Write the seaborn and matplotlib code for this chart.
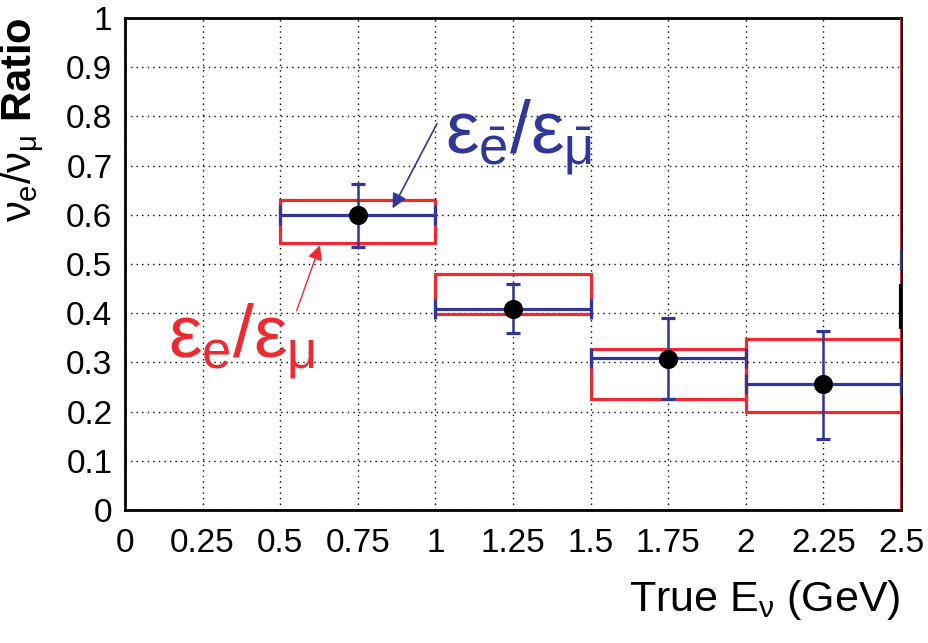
import numpy as np
import pandas as pd
import matplotlib
matplotlib.use("Agg")
import matplotlib.pyplot as plt
from matplotlib.ticker import MultipleLocator, FuncFormatter
import seaborn as sns

# Energy bins (GeV)
bin_lo = [0.5, 1.0, 1.5, 2.0]
bin_hi = [1.0, 1.5, 2.0, 2.5]
bin_center = [0.75, 1.25, 1.75, 2.25]

# nu_e / nu_mu ratio with its error bar
ratio = [0.600, 0.409, 0.307, 0.256]
ratio_err_lo = [0.535, 0.360, 0.225, 0.145]
ratio_err_hi = [0.662, 0.460, 0.390, 0.363]

# efficiency ratio band for neutrinos (red boxes)
eff_lo = [0.542, 0.398, 0.226, 0.200]
eff_hi = [0.631, 0.479, 0.328, 0.348]

# efficiency ratio for antineutrinos (blue lines), last bin lies past the axis edge
anti_lo = [0.5, 1.0, 1.5, 2.0, 2.5]
anti_hi = [1.0, 1.5, 2.0, 2.5, 3.0]
anti_ratio = [0.600, 0.409, 0.308, 0.256, 0.509]

# overflow error segment at the upper edge
overflow_lo = [0.368]
overflow_hi = [0.460]

RED = "#ee2a30"
BLUE = "#30379a"

sns.set_theme(style="white")
plt.rcParams["font.family"] = ["Liberation Sans", "DejaVu Sans"]
plt.rcParams["mathtext.fontset"] = "custom"
plt.rcParams["mathtext.rm"] = "Liberation Sans"
plt.rcParams["mathtext.it"] = "Liberation Sans"
plt.rcParams["mathtext.bf"] = "Liberation Sans:bold"
for key in ("text.color", "axes.labelcolor", "xtick.color", "ytick.color"):
    plt.rcParams[key] = "black"

fig = plt.figure(figsize=(9.29, 6.43), dpi=100)
ax = fig.add_axes([125 / 929, 133 / 643, 776 / 929, 492 / 643])

ax.set_xlim(0, 2.5)
ax.set_ylim(0, 1)

# dotted grid
ax.set_axisbelow(True)
ax.grid(True, which="major", color="black", linestyle=(0, (1, 3)), linewidth=1.0)

# red boxes: neutrino efficiency ratio range per bin
widths = np.array(bin_hi) - np.array(bin_lo)
heights = np.array(eff_hi) - np.array(eff_lo)
ax.bar(bin_lo, heights, width=widths, bottom=eff_lo, align="edge",
       fill=False, edgecolor=RED, linewidth=2.3, zorder=3)
ax.axvline(2.5, color=RED, linewidth=2.0, zorder=3)

# blue lines with end caps: antineutrino efficiency ratio
anti_c = (np.array(anti_lo) + np.array(anti_hi)) / 2
anti_w = (np.array(anti_hi) - np.array(anti_lo)) / 2
ax.errorbar(anti_c, anti_ratio, xerr=anti_w, fmt="none", ecolor=BLUE,
            elinewidth=2.3, capsize=7, capthick=2.3, zorder=4)

# overflow segment
ax.vlines([2.5], overflow_lo, overflow_hi, color="black", linewidth=3, zorder=4)

# vertical error bars on the ratio
yerr = np.vstack([np.array(ratio) - np.array(ratio_err_lo),
                  np.array(ratio_err_hi) - np.array(ratio)])
ax.errorbar(bin_center, ratio, yerr=yerr, fmt="none", ecolor=BLUE,
            elinewidth=1.8, capsize=5, capthick=2.3, zorder=5)

# data points
df = pd.DataFrame({"E": bin_center, "ratio": ratio})
sns.scatterplot(data=df, x="E", y="ratio", ax=ax, color="black", s=190,
                edgecolor="black", linewidth=0, zorder=6, legend=False)

# annotations
ax.annotate("", xy=(0.862, 0.613), xytext=(1.005, 0.785),
            arrowprops=dict(arrowstyle="-|>", color=BLUE, lw=1.2,
                            mutation_scale=22, shrinkA=0, shrinkB=0), zorder=7)
ax.text(1.03, 0.725, r"$\varepsilon_{\bar{\mathrm{e}}}/\varepsilon_{\bar{\mu}}$",
        color=BLUE, fontsize=54, ha="left", va="baseline", zorder=7)

ax.annotate("", xy=(0.628, 0.538), xytext=(0.553, 0.405),
            arrowprops=dict(arrowstyle="-|>", color=RED, lw=1.0,
                            mutation_scale=22, shrinkA=0, shrinkB=0), zorder=7)
ax.text(0.14, 0.31, r"$\varepsilon_{\mathrm{e}}/\varepsilon_{\mu}$",
        color=RED, fontsize=54, ha="left", va="baseline", zorder=7)

# axes, ticks, labels
ax.xaxis.set_major_locator(MultipleLocator(0.25))
ax.xaxis.set_minor_locator(MultipleLocator(0.05))
ax.yaxis.set_major_locator(MultipleLocator(0.1))
ax.yaxis.set_minor_locator(MultipleLocator(0.02))
fmt = FuncFormatter(lambda v, p: f"{v:g}")
ax.xaxis.set_major_formatter(fmt)
ax.yaxis.set_major_formatter(fmt)
ax.tick_params(which="both", direction="in", top=False, right=False,
               color="black", width=1.3)
ax.tick_params(which="major", length=14, labelsize=24, pad=9)
ax.tick_params(axis="x", which="major", pad=13)
ax.tick_params(which="minor", length=7)

for s in ax.spines.values():
    s.set_color("black")
    s.set_linewidth(2.0)

ax.set_xlabel(r"True E$_{\nu}$ (GeV)", fontsize=31, loc="right", labelpad=14)
ax.set_ylabel(r"$\nu_{\mathrm{e}}/\nu_{\mu}$ Ratio", fontsize=30,
              fontweight="bold", loc="top", labelpad=14)

fig.savefig("out.png", dpi=100)
